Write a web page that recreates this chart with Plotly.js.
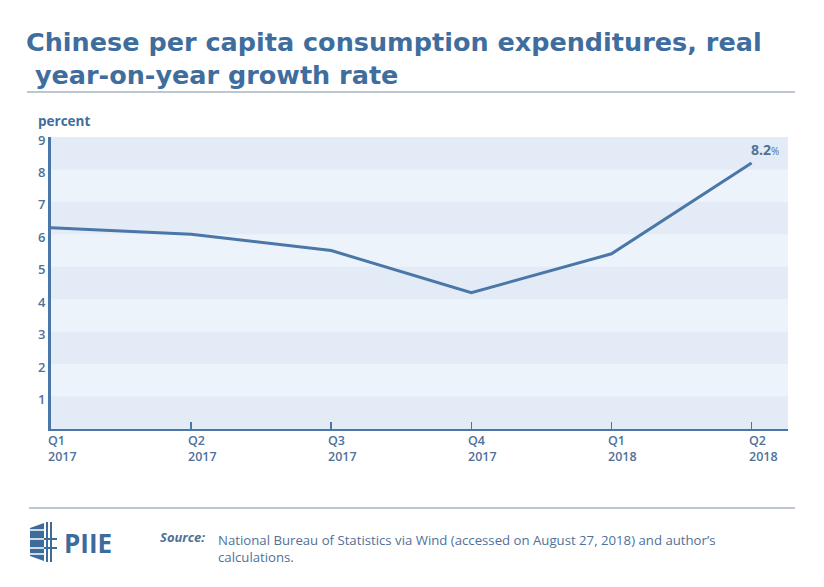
<!DOCTYPE html>
<html>
<head>
<meta charset="utf-8">
<script src="https://cdn.plot.ly/plotly-3.0.1.min.js"></script>
<style>html,body{margin:0;padding:0;background:#fff;}#chart{width:824px;height:587px;}</style>
</head>
<body>
<div id="chart"></div>
<script>
// ---- data ----
var quarters = ['Q1', 'Q2', 'Q3', 'Q4', 'Q1', 'Q2'];
var years = ['2017', '2017', '2017', '2017', '2018', '2018'];
var growth = [6.2, 6.0, 5.5, 4.2, 5.4, 8.2];
var yTicks = [1, 2, 3, 4, 5, 6, 7, 8, 9];
var lastLabel = '8.2';

var categories = quarters.map(function (q, i) { return q + ' ' + years[i]; });

// ---- layout helpers (pixel -> paper) ----
var W = 824, H = 587, L = 51, R = 788, T = 137, B = 429;
function px(x) { return (x - L) / (R - L); }
function py(y) { return (B - y) / (B - T); }

var blue = '#4a77a8';
var textBlue = '#4f719a';
var titleBlue = '#3f6e9e';
var FONT = 'Open Sans, Lato, sans-serif';
var TFONT = 'DejaVu Sans, Open Sans, sans-serif';

var shapes = [];
// alternating bands
for (var k = 0; k < 9; k += 2) {
  shapes.push({type: 'rect', xref: 'paper', yref: 'y', x0: 0, x1: 1, y0: k, y1: k + 1,
    fillcolor: '#e3ebf6', line: {width: 0}, layer: 'below'});
}
// rules
shapes.push({type: 'line', xref: 'paper', yref: 'paper', x0: px(27), x1: px(795), y0: py(92), y1: py(92),
  line: {color: '#a9b3bf', width: 1.5}});
shapes.push({type: 'line', xref: 'paper', yref: 'paper', x0: px(29), x1: px(795), y0: py(508), y1: py(508),
  line: {color: '#a9b3bf', width: 1.5}});
// logo icon
shapes.push({type: 'path', xref: 'paper', yref: 'paper',
  path: 'M ' + px(30) + ',' + py(528) + ' L ' + px(44) + ',' + py(523) + ' L ' + px(44) + ',' + py(561) +
        ' L ' + px(30) + ',' + py(556) + ' Z',
  fillcolor: '#3d6b9b', line: {width: 0}});
[47, 51].forEach(function (x) {
  shapes.push({type: 'line', xref: 'paper', yref: 'paper', x0: px(x), x1: px(x), y0: py(522), y1: py(562),
    line: {color: '#3d6b9b', width: 2}});
});
[530, 539, 548, 554].forEach(function (y) {
  shapes.push({type: 'line', xref: 'paper', yref: 'paper', x0: px(30), x1: px(44), y0: py(y), y1: py(y),
    line: {color: '#ffffff', width: 1.5}});
});
[539, 548].forEach(function (y) {
  shapes.push({type: 'line', xref: 'paper', yref: 'paper', x0: px(44), x1: px(57), y0: py(y), y1: py(y),
    line: {color: '#3d6b9b', width: 2}});
});

var annotations = [];
// title
annotations.push({x: px(24), xref: 'paper', y: py(25), yref: 'paper', xanchor: 'left', yanchor: 'top',
  showarrow: false, align: 'left',
  text: 'Chinese per capita consumption expenditures, real<br> year-on-year growth rate',
  font: {family: TFONT, size: 25.5, color: titleBlue, weight: 700}});
// x tick labels (left aligned, two lines)
categories.forEach(function (c, i) {
  annotations.push({x: c, xref: 'x', y: py(448.5), yref: 'paper', xanchor: 'left', yanchor: 'middle',
    xshift: -4, showarrow: false, align: 'left', borderpad: 0,
    text: quarters[i] + '<br>' + years[i],
    font: {family: FONT, size: 12.5, color: textBlue, weight: 600}});
});
// y axis unit
annotations.push({x: px(36), xref: 'paper', y: py(121), yref: 'paper', xanchor: 'left', yanchor: 'middle',
  showarrow: false, text: '<b>percent</b>', font: {family: FONT, size: 13.5, color: titleBlue}});
// end label
annotations.push({x: categories[categories.length - 1], xref: 'x', y: growth[growth.length - 1], yref: 'y',
  xanchor: 'center', yanchor: 'bottom', xshift: 13, yshift: 2, showarrow: false,
  text: '<b>' + lastLabel + '</b><span style="font-size:10px">%</span>',
  font: {family: FONT, size: 14, color: textBlue}});
// logo text
annotations.push({x: px(62), xref: 'paper', y: py(543), yref: 'paper', xanchor: 'left', yanchor: 'middle',
  showarrow: false, text: '<b>PIIE</b>', font: {family: FONT, size: 26, color: '#3d6b9b'}});
// source
annotations.push({x: px(158), xref: 'paper', y: py(537), yref: 'paper', xanchor: 'left', yanchor: 'middle',
  showarrow: false, text: '<b><i>Source:</i></b>', font: {family: FONT, size: 13, color: textBlue}});
annotations.push({x: px(216), xref: 'paper', y: py(529), yref: 'paper', xanchor: 'left', yanchor: 'top',
  showarrow: false, align: 'left',
  text: 'National Bureau of Statistics via Wind (accessed on August 27, 2018) and author\u2019s<br>calculations.',
  font: {family: FONT, size: 13.2, color: textBlue}});

var trace = {
  x: categories, y: growth, type: 'scatter', mode: 'lines',
  line: {color: blue, width: 3}, hoverinfo: 'skip'
};

var layout = {
  width: W, height: H,
  margin: {l: L, r: W - R, t: T, b: H - B, pad: 0},
  paper_bgcolor: '#ffffff', plot_bgcolor: '#edf3fa',
  showlegend: false,
  xaxis: {
    type: 'category', range: [0, 5.26], fixedrange: true,
    showgrid: false, zeroline: false, showticklabels: false,
    showline: true, linecolor: blue, linewidth: 2,
    ticks: 'inside', ticklen: 7, tickwidth: 1.5, tickcolor: blue
  },
  yaxis: {
    range: [0, 9], tickvals: yTicks, fixedrange: true,
    showgrid: false, zeroline: false,
    showline: true, linecolor: blue, linewidth: 3,
    ticks: '', ticklabelshift: 3,
    tickfont: {family: FONT, size: 13, color: textBlue, weight: 600}
  },
  shapes: shapes,
  annotations: annotations
};

Plotly.newPlot('chart', [trace], layout, {displayModeBar: false, staticPlot: true});
</script>
</body>
</html>
